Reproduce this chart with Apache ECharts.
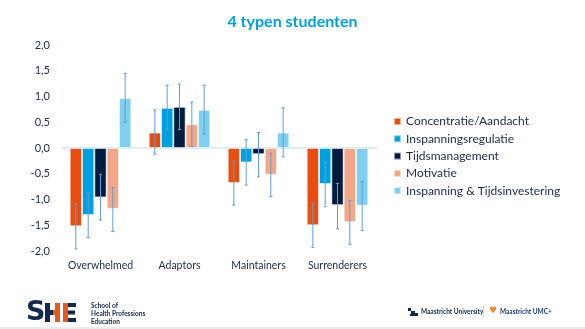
<!DOCTYPE html>
<html>
<head>
<meta charset="utf-8">
<script src="https://cdn.jsdelivr.net/npm/echarts@6/dist/echarts.min.js"></script>
<style>
  html, body { margin: 0; padding: 0; background: #ffffff; }
  #chart { width: 585px; height: 329px; }
</style>
</head>
<body>
<div id="chart"></div>
<script>
// Student profile groups on the x axis
const categories = ['Overwhelmed', 'Adaptors', 'Maintainers', 'Surrenderers'];

// Mean z-scores per dimension
const seriesNames = [
  'Concentratie/Aandacht',
  'Inspanningsregulatie',
  'Tijdsmanagement',
  'Motivatie',
  'Inspanning & Tijdsinvestering'
];
const concentratie = [-1.52, 0.30, -0.68, -1.50];
const inspanningsregulatie = [-1.30, 0.78, -0.28, -0.70];
const tijdsmanagement = [-0.96, 0.80, -0.12, -1.11];
const motivatie = [-1.18, 0.46, -0.52, -1.44];
const inspanningTijd = [0.97, 0.74, 0.30, -1.12];

// Error bar ranges [low, high] per group
const concentratieErr = [[-1.96, -1.09], [-0.12, 0.74], [-1.11, -0.25], [-1.93, -1.07]];
const inspanningsregulatieErr = [[-1.74, -0.86], [0.35, 1.22], [-0.72, 0.16], [-1.14, -0.27]];
const tijdsmanagementErr = [[-1.40, -0.51], [0.36, 1.24], [-0.56, 0.30], [-1.57, -0.69]];
const motivatieErr = [[-1.62, -0.77], [0.03, 0.89], [-0.94, -0.10], [-1.87, -1.02]];
const inspanningTijdErr = [[0.50, 1.45], [0.27, 1.22], [-0.17, 0.78], [-1.60, -0.65]];

// Y axis ticks
const yMin = -2, yMax = 2, yStep = 0.5;

const values = [concentratie, inspanningsregulatie, tijdsmanagement, motivatie, inspanningTijd];
const errors = [concentratieErr, inspanningsregulatieErr, tijdsmanagementErr, motivatieErr, inspanningTijdErr];
const colors = ['#E84E10', '#009FDF', '#001C3D', '#F2A788', '#7FD0EE'];

const CAT_GAP = 0.22;
const FONT = 'Lato, "Open Sans", sans-serif';
const TEXT = '#1C2A47';
const NAVY = '#13284A';
const ORANGE = '#E8581C';

const barSeries = values.map((v, i) => ({
  name: seriesNames[i],
  type: 'bar',
  data: v,
  barGap: '0%',
  barCategoryGap: (CAT_GAP * 100) + '%',
  itemStyle: { color: colors[i], borderColor: 'rgba(255,255,255,0.55)', borderWidth: 1 },
  z: 2
}));

// Zero line
barSeries[0].markLine = {
  silent: true,
  symbol: 'none',
  label: { show: false },
  lineStyle: { color: '#D6E6F5', width: 1.5, type: 'solid' },
  data: [{ yAxis: 0 }],
  z: 1
};

const errData = [];
errors.forEach((arr, s) => arr.forEach((r, c) => errData.push([c, s, r[0], r[1]])));

const errorSeries = {
  type: 'custom',
  name: 'error',
  silent: true,
  z: 5,
  encode: { x: 0, y: [2, 3] },
  data: errData,
  renderItem: function (params, api) {
    const cat = api.value(0), s = api.value(1);
    const center = api.coord([cat, 0])[0];
    const catW = api.size([1, 0])[0];
    const barW = catW * (1 - CAT_GAP) / values.length;
    const x = center - barW * values.length / 2 + (s + 0.5) * barW;
    const yLow = api.coord([cat, api.value(2)])[1];
    const yHigh = api.coord([cat, api.value(3)])[1];
    const cap = 1.6;
    const style = { stroke: '#5F9EDB', lineWidth: 1 };
    return {
      type: 'group',
      children: [
        { type: 'line', shape: { x1: x, y1: yLow, x2: x, y2: yHigh }, style: style },
        { type: 'line', shape: { x1: x - cap, y1: yLow, x2: x + cap, y2: yLow }, style: style },
        { type: 'line', shape: { x1: x - cap, y1: yHigh, x2: x + cap, y2: yHigh }, style: style }
      ]
    };
  }
};

function box(x, y, w, h, fill) {
  return { type: 'rect', silent: true, shape: { x: x, y: y, width: w, height: h }, style: { fill: fill } };
}

const chart = echarts.init(document.getElementById('chart'), null, { renderer: 'canvas' });
chart.setOption({
  backgroundColor: '#ffffff',
  animation: false,
  title: {
    text: '4 typen studenten',
    left: 'center',
    top: 9,
    textStyle: { color: '#00A2DB', fontSize: 16, fontWeight: 'bold', fontFamily: FONT }
  },
  legend: {
    data: seriesNames,
    orient: 'vertical',
    left: 388,
    top: 109,
    icon: 'rect',
    itemWidth: 7,
    itemHeight: 7,
    itemGap: 2.3,
    textStyle: { color: TEXT, fontSize: 12, fontFamily: FONT, lineHeight: 15 }
  },
  grid: { left: 61, right: 208, top: 45, bottom: 78 },
  xAxis: {
    type: 'category',
    data: categories,
    axisLine: { show: false, onZero: false },
    axisTick: { show: false },
    axisLabel: { color: TEXT, fontSize: 10.5, fontFamily: FONT, margin: 9, interval: 0 }
  },
  yAxis: {
    type: 'value',
    min: yMin,
    max: yMax,
    interval: yStep,
    axisLine: { show: false },
    axisTick: { show: false },
    splitLine: { show: false },
    axisLabel: {
      color: TEXT, fontSize: 11, fontFamily: FONT, margin: 11,
      formatter: v => v.toFixed(1).replace('.', ',')
    }
  },
  series: barSeries.concat([errorSeries]),
  graphic: [
    // footer rule
    box(0, 327, 585, 2, '#EDEDED'),
    // SHE mark: S
    {
      type: 'text', left: 26, top: 299, silent: true,
      style: { text: 'S', fill: NAVY, fontSize: 27, fontWeight: 900, fontFamily: 'DejaVu Sans' }
    },
    // H
    box(45, 303, 5, 19, NAVY),
    box(50, 310, 5, 5, NAVY),
    box(53, 310, 3, 5, ORANGE),
    box(55, 303, 5, 19, ORANGE),
    // E
    box(63, 303, 5, 19, ORANGE),
    box(68, 303, 8, 4, NAVY),
    box(68, 310.5, 7, 4, NAVY),
    box(68, 318, 8, 4, NAVY),
    {
      type: 'text', left: 91, top: 302, silent: true,
      style: {
        text: 'School of\nHealth Professions\nEducation',
        fill: NAVY, fontSize: 6.5, lineHeight: 8, fontWeight: 'bold', fontFamily: FONT
      }
    },
    // Maastricht University
    box(408, 308, 3, 3, NAVY),
    box(411, 311, 4, 3, NAVY),
    box(410, 314, 5, 2, NAVY),
    box(415, 313, 3, 3, NAVY),
    {
      type: 'text', left: 421, top: 308, silent: true,
      style: { text: 'Maastricht University', fill: NAVY, fontSize: 6.5, fontWeight: 'bold', fontFamily: FONT }
    },
    box(483, 304, 1, 14, '#D6E0EA'),
    {
      type: 'text', left: 489, top: 306, silent: true,
      style: { text: '♥', fill: '#F08A24', fontSize: 9, fontFamily: 'DejaVu Sans' }
    },
    {
      type: 'text', left: 500, top: 308, silent: true,
      style: { text: 'Maastricht UMC+', fill: '#1B3C78', fontSize: 6.5, fontWeight: 'bold', fontFamily: FONT }
    }
  ]
});
</script>
</body>
</html>
